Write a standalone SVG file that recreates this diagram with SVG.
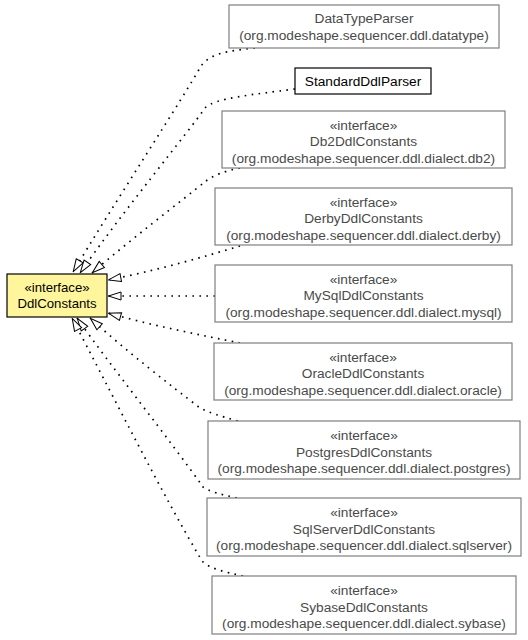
<svg xmlns="http://www.w3.org/2000/svg" width="528" height="640" viewBox="0 0 528 640">
<style>
  text { font-family: "Liberation Sans", Arial, Helvetica, sans-serif; font-size: 13.7px; text-anchor: middle; }
  .node rect { fill: #ffffff; stroke: #7f7f7f; stroke-width: 1.2; }
  .node text { fill: #4a4a4a; }
  .focus rect { fill: #fff59d; stroke: #000000; stroke-width: 1.2; }
  .focus text { font-size: 13.2px; }
  .focus text, .plain text { fill: #000000; }
  .plain rect { fill: #ffffff; stroke: #000000; stroke-width: 1.2; }
  .edges path { fill: none; stroke: #000000; stroke-width: 1.7; stroke-dasharray: 1.6 5.4; marker-end: url(#hollow); }
  .arrowhead { fill: #ffffff; stroke: #000000; stroke-width: 1; stroke-dasharray: none; }
</style>
<defs>
  <marker id="hollow" markerUnits="userSpaceOnUse" viewBox="0 0 14 10" refX="14" refY="5" markerWidth="14" markerHeight="10" orient="auto">
    <path class="arrowhead" d="M1,1 L13.5,5 L1,9 Z"/>
  </marker>
</defs>
<rect x="0" y="0" width="528" height="640" fill="#ffffff"/>

<g id="connectors" class="edges">
  <path d="M255,48 C225,51 210,54 201,66 C185,95 110,210 73,272"/>
  <path d="M295,89 C250,95 215,98 205,108 C190,130 120,215 80,273"/>
  <path d="M240,168 C225,171 214,175 206,181 C180,202 130,240 92,273"/>
  <path d="M240,246 C200,258 150,272 108,280"/>
  <path d="M215,296 L108,296"/>
  <path d="M240,343 C200,335 150,325 108,313"/>
  <path d="M238,421 C220,416 210,413 200,408 C170,385 125,350 90,318"/>
  <path d="M237,498 C220,494 210,492 203,487 C170,440 110,365 77,318"/>
  <path d="M243,576 C225,572 210,569 202,561 C160,490 110,390 72,318"/>
</g>

<g id="DdlConstants" class="node focus">
  <rect x="7" y="274" width="100" height="43"/>
  <text x="57" y="292">«interface»</text>
  <text x="57" y="308">DdlConstants</text>
</g>

<g id="DataTypeParser" class="node">
  <rect x="229" y="5" width="270" height="43"/>
  <text x="364" y="23">DataTypeParser</text>
  <text x="364" y="39.5">(org.modeshape.sequencer.ddl.datatype)</text>
</g>

<g id="StandardDdlParser" class="node plain">
  <rect x="295" y="68" width="136" height="26"/>
  <text x="363" y="86">StandardDdlParser</text>
</g>

<g id="Db2DdlConstants" class="node">
  <rect x="222" y="111" width="283" height="57"/>
  <text x="363.5" y="129.5">«interface»</text>
  <text x="363.5" y="146">Db2DdlConstants</text>
  <text x="363.5" y="162.5">(org.modeshape.sequencer.ddl.dialect.db2)</text>
</g>

<g id="DerbyDdlConstants" class="node">
  <rect x="215" y="188" width="297" height="57"/>
  <text x="363.5" y="206.5">«interface»</text>
  <text x="363.5" y="223">DerbyDdlConstants</text>
  <text x="363.5" y="239.5">(org.modeshape.sequencer.ddl.dialect.derby)</text>
</g>

<g id="MySqlDdlConstants" class="node">
  <rect x="215" y="265" width="297" height="57"/>
  <text x="363.5" y="283.5">«interface»</text>
  <text x="363.5" y="300">MySqlDdlConstants</text>
  <text x="363.5" y="316.5">(org.modeshape.sequencer.ddl.dialect.mysql)</text>
</g>

<g id="OracleDdlConstants" class="node">
  <rect x="214" y="343" width="298" height="57"/>
  <text x="363" y="361.5">«interface»</text>
  <text x="363" y="378">OracleDdlConstants</text>
  <text x="363" y="394.5">(org.modeshape.sequencer.ddl.dialect.oracle)</text>
</g>

<g id="PostgresDdlConstants" class="node">
  <rect x="208" y="421" width="312" height="58"/>
  <text x="364" y="440">«interface»</text>
  <text x="364" y="456.5">PostgresDdlConstants</text>
  <text x="364" y="473">(org.modeshape.sequencer.ddl.dialect.postgres)</text>
</g>

<g id="SqlServerDdlConstants" class="node">
  <rect x="207" y="498" width="314" height="58"/>
  <text x="364" y="517">«interface»</text>
  <text x="364" y="533.5">SqlServerDdlConstants</text>
  <text x="364" y="550">(org.modeshape.sequencer.ddl.dialect.sqlserver)</text>
</g>

<g id="SybaseDdlConstants" class="node">
  <rect x="212" y="576" width="304" height="58"/>
  <text x="364" y="595">«interface»</text>
  <text x="364" y="611.5">SybaseDdlConstants</text>
  <text x="364" y="628">(org.modeshape.sequencer.ddl.dialect.sybase)</text>
</g>
</svg>
